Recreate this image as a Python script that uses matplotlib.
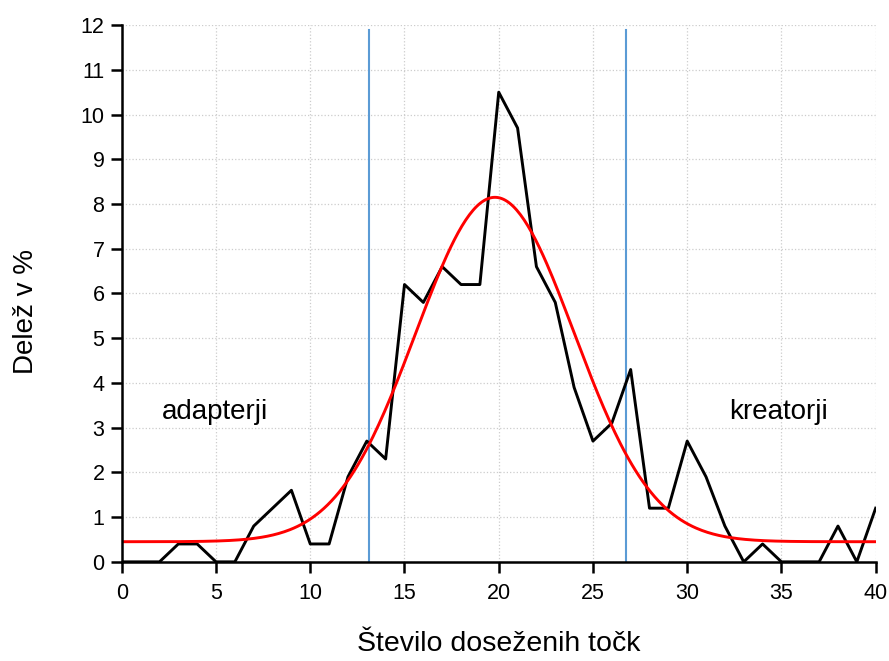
import numpy as np
import matplotlib.pyplot as plt

plt.rcParams['font.family'] = ['Liberation Sans', 'DejaVu Sans']

# Podatki
tocke = list(range(0, 41))
delez = [0, 0, 0, 0.4, 0.4, 0, 0, 0.8, 1.2, 1.6,
         0.4, 0.4, 1.9, 2.7, 2.3, 6.2, 5.8, 6.6, 6.2, 6.2,
         10.5, 9.7, 6.6, 5.8, 3.9, 2.7, 3.1, 4.3, 1.2, 1.2,
         2.7, 1.9, 0.8, 0, 0.4, 0, 0, 0, 0.8, 0, 1.2]

# Normalna krivulja (prileganje)
fit_povprecje = 19.8
fit_sd = 4.2
fit_vrh = 8.15
fit_osnova = 0.45

# Meji
meje = [13.1, 26.75]

xs = np.linspace(0, 40, 400)
krivulja = fit_osnova + (fit_vrh - fit_osnova) * np.exp(-(xs - fit_povprecje) ** 2 / (2 * fit_sd ** 2))

fig = plt.figure(figsize=(8.89, 6.61), dpi=100)
ax = fig.add_axes([0.137, 0.150, 0.848, 0.812])

ax.grid(True, linestyle=':', color='#cccccc', linewidth=0.9)
ax.set_axisbelow(True)

for m in meje:
    ax.plot([m, m], [0, 11.9], color='#5b9bd5', linewidth=1.5)

ax.plot(tocke, delez, color='black', linewidth=2.1)
ax.plot(xs, krivulja, color='#ff0000', linewidth=2.1)

ax.text(4.93, 3.2, 'adapterji', fontsize=20, ha='center', va='baseline')
ax.text(34.85, 3.2, 'kreatorji', fontsize=20, ha='center', va='baseline')

ax.set_xlim(0, 40)
ax.set_ylim(0, 12)
ax.set_xticks(range(0, 41, 5))
ax.set_yticks(range(0, 13))
ax.spines['top'].set_visible(False)
ax.spines['right'].set_visible(False)
ax.spines['left'].set_linewidth(1.8)
ax.spines['bottom'].set_linewidth(1.8)
ax.tick_params(axis='both', length=8, width=1.8, labelsize=15.5)
ax.tick_params(axis='x', pad=7)
ax.tick_params(axis='y', pad=4.5)

ax.set_xlabel('Število doseženih točk', fontsize=20.5)
ax.set_ylabel('Delež v %', fontsize=20)
ax.xaxis.set_label_coords(0.5, -0.128)
ax.yaxis.set_label_coords(-0.110, 0.467)

fig.savefig('out.png', dpi=100)
